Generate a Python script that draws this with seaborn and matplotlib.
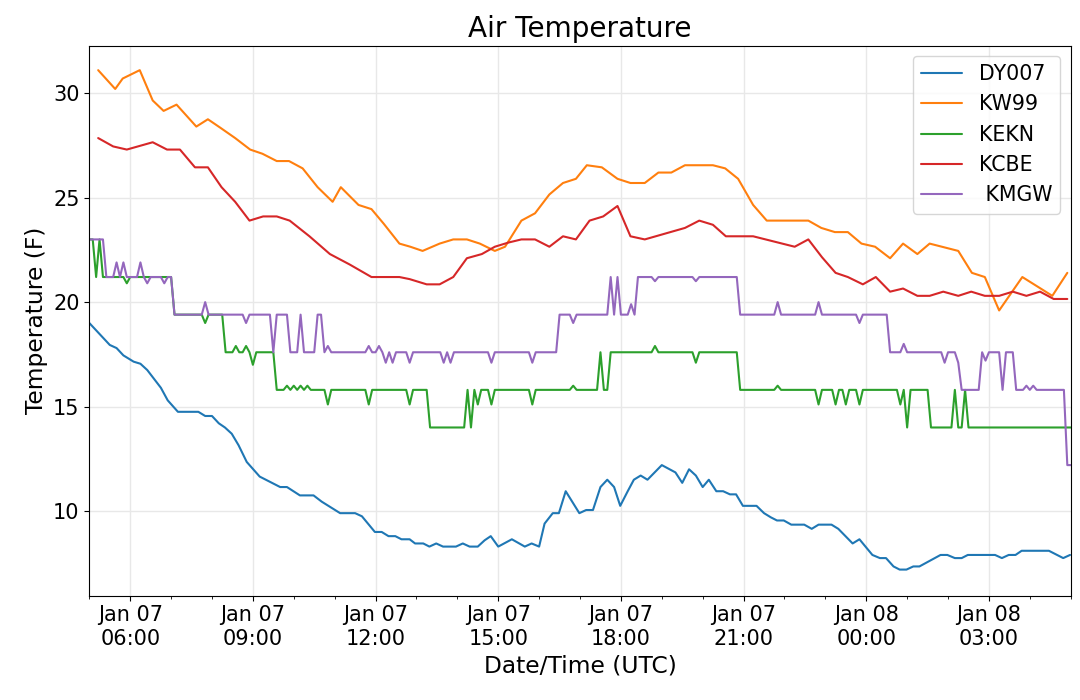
import numpy as np
import pandas as pd
import seaborn as sns
import matplotlib
matplotlib.use("Agg")
import matplotlib.pyplot as plt
import matplotlib.dates as mdates
from matplotlib.ticker import MultipleLocator

START = pd.Timestamp("2019-01-07 05:00")

# DY007: minutes after 05:00 UTC and temperature (F)
dy007_min = [0, 30, 40, 50, 65, 75, 85, 105, 115, 130, 160, 170, 180, 190, 199, 209, 219, 231,
             250, 280, 290, 309, 329, 341, 368, 390, 400, 419, 429, 439, 449, 458, 470, 478,
             490, 499, 509, 519, 538, 548, 558, 570, 580, 589, 600, 620, 639, 649, 660, 668,
             680, 689, 699, 719, 729, 739, 750, 760, 770, 779, 790, 799, 809, 819, 840, 860,
             870, 880, 890, 900, 909, 920, 930, 940, 949, 959, 979, 990, 1000, 1009, 1019, 1030,
             1049, 1060, 1070, 1089, 1099, 1120, 1130, 1149, 1160, 1169, 1180, 1189, 1199, 1209,
             1218, 1249, 1259, 1270, 1280, 1289, 1329, 1339, 1349, 1359, 1368, 1408, 1429, 1439]
dy007_temp = [19.0, 17.95, 17.8, 17.45, 17.15, 17.05, 16.75, 15.9, 15.3, 14.75, 14.75, 14.55,
              14.55, 14.2, 14.0, 13.7, 13.15, 12.35, 11.65, 11.15, 11.15, 10.75, 10.75, 10.45,
              9.9, 9.9, 9.75, 9.0, 9.0, 8.8, 8.8, 8.65, 8.65, 8.45, 8.45, 8.3, 8.45, 8.3, 8.3,
              8.45, 8.3, 8.3, 8.6, 8.8, 8.3, 8.65, 8.3, 8.45, 8.3, 9.4, 9.9, 9.9, 10.95, 9.9,
              10.05, 10.05, 11.15, 11.5, 11.15, 10.25, 10.95, 11.5, 11.7, 11.5, 12.2, 11.85,
              11.35, 12.0, 11.7, 11.15, 11.5, 10.95, 10.95, 10.8, 10.8, 10.25, 10.25, 9.9, 9.7,
              9.55, 9.55, 9.35, 9.35, 9.15, 9.35, 9.35, 9.15, 8.45, 8.65, 7.9, 7.75, 7.75, 7.35,
              7.2, 7.2, 7.35, 7.35, 7.9, 7.9, 7.75, 7.75, 7.9, 7.9, 7.75, 7.9, 7.9, 8.1, 8.1,
              7.75, 7.9]

# KW99
kw99_min = [13, 38, 49, 74, 93, 109, 128, 157, 174, 192, 214, 236, 254, 275, 293, 313, 335,
            357, 369, 395, 414, 432, 455, 471, 489, 514, 534, 554, 573, 595, 610, 634, 654,
            675, 695, 714, 730, 752, 775, 794, 815, 835, 854, 874, 915, 933, 952, 974, 994,
            1055, 1074, 1094, 1113, 1133, 1153, 1175, 1194, 1215, 1233, 1275, 1295, 1314,
            1335, 1369, 1413, 1435]
kw99_temp = [31.1, 30.2, 30.7, 31.1, 29.65, 29.15, 29.45, 28.4, 28.75, 28.35, 27.85, 27.3,
             27.1, 26.75, 26.75, 26.4, 25.5, 24.8, 25.5, 24.65, 24.45, 23.75, 22.8, 22.65,
             22.45, 22.8, 23.0, 23.0, 22.8, 22.45, 22.65, 23.9, 24.25, 25.15, 25.7, 25.9,
             26.55, 26.45, 25.9, 25.7, 25.7, 26.2, 26.2, 26.55, 26.55, 26.4, 25.9, 24.65,
             23.9, 23.9, 23.55, 23.35, 23.35, 22.8, 22.65, 22.1, 22.8, 22.3, 22.8, 22.45,
             21.4, 21.2, 19.6, 21.2, 20.3, 21.4]

# KCBE
kcbe_min = [13, 35, 55, 93, 114, 133, 155, 174, 194, 214, 235, 255, 275, 294, 323, 353, 382,
            414, 455, 470, 495, 514, 534, 554, 576, 595, 615, 634, 654, 675, 695, 714, 734,
            754, 775, 794, 815, 874, 895, 915, 934, 953, 974, 1035, 1055, 1075, 1095, 1113,
            1135, 1154, 1175, 1194, 1215, 1233, 1253, 1275, 1294, 1314, 1335, 1355, 1375,
            1395, 1415, 1435]
kcbe_temp = [27.85, 27.45, 27.3, 27.65, 27.3, 27.3, 26.45, 26.45, 25.5, 24.8, 23.9, 24.1,
             24.1, 23.9, 23.15, 22.3, 21.8, 21.2, 21.2, 21.1, 20.85, 20.85, 21.2, 22.1, 22.3,
             22.65, 22.85, 23.0, 23.0, 22.65, 23.15, 23.0, 23.9, 24.1, 24.6, 23.15, 23.0,
             23.55, 23.9, 23.7, 23.15, 23.15, 23.15, 22.65, 23.0, 22.15, 21.4, 21.2, 20.85,
             21.2, 20.5, 20.65, 20.3, 20.3, 20.5, 20.3, 20.5, 20.3, 20.3, 20.5, 20.3, 20.5,
             20.15, 20.15]

# KEKN and KMGW report every 5 minutes: (temperature, number of consecutive reports)
kekn_runs = [(23.0, 2), (21.2, 1), (23.0, 1), (21.2, 7), (20.9, 1), (21.2, 13), (19.4, 9),
             (19.0, 1), (19.4, 5), (17.6, 3), (17.9, 1), (17.6, 2), (17.9, 1), (17.6, 1),
             (17.0, 1), (17.6, 6), (15.8, 3), (16.0, 1), (15.8, 1), (16.0, 1), (15.8, 1),
             (16.0, 1), (15.8, 1), (16.0, 1), (15.8, 5), (15.1, 1), (15.8, 11), (15.1, 1),
             (15.8, 11), (15.1, 1), (15.8, 5), (14.0, 11), (15.8, 1), (14.0, 1), (15.8, 1),
             (15.1, 1), (15.8, 3), (15.1, 1), (15.8, 11), (15.1, 1), (15.8, 11), (16.0, 1),
             (15.8, 7), (17.6, 1), (15.8, 2), (17.6, 13), (17.9, 1), (17.6, 11), (17.1, 1),
             (17.6, 12), (15.8, 11), (16.0, 1), (15.8, 11), (15.1, 1), (15.8, 4), (15.1, 1),
             (15.8, 2), (15.1, 1), (15.8, 3), (15.1, 1), (15.8, 11), (15.1, 1), (15.8, 1),
             (14.0, 1), (15.8, 6), (14.0, 7), (15.8, 1), (14.0, 2), (15.8, 1), (14.0, 31)]
kmgw_runs = [(23.0, 5), (21.2, 3), (21.9, 1), (21.2, 1), (21.9, 1), (21.2, 4), (21.9, 1),
             (21.2, 1), (20.9, 1), (21.2, 4), (20.9, 1), (21.2, 2), (19.4, 9), (20.0, 1),
             (19.4, 11), (19.0, 1), (19.4, 7), (17.6, 1), (19.4, 4), (17.6, 3), (19.4, 1),
             (17.6, 4), (19.4, 2), (17.6, 1), (17.9, 1), (17.6, 11), (17.9, 1), (17.6, 2),
             (17.9, 1), (17.6, 1), (17.1, 1), (17.6, 1), (17.1, 1), (17.6, 4), (17.1, 1),
             (17.6, 9), (17.1, 1), (17.6, 1), (17.1, 1), (17.6, 11), (17.1, 1), (17.6, 11),
             (17.1, 1), (17.6, 7), (19.4, 4), (19.0, 1), (19.4, 10), (21.2, 1), (19.4, 1),
             (21.2, 1), (19.4, 3), (19.9, 1), (19.4, 1), (21.2, 5), (21.0, 1), (21.2, 11),
             (21.0, 1), (21.2, 12), (19.4, 11), (20.0, 1), (19.4, 11), (20.0, 1), (19.4, 11),
             (19.0, 1), (19.4, 8), (17.6, 4), (18.0, 1), (17.6, 11), (17.1, 1), (17.6, 3),
             (17.1, 1), (15.8, 6), (17.6, 1), (17.2, 1), (17.6, 4), (15.8, 1), (17.6, 3),
             (15.8, 3), (16.0, 1), (15.8, 1), (16.0, 1), (15.8, 9), (12.2, 2)]

stations = ["DY007", "KW99", "KEKN", "KCBE", " KMGW"]
colors = ["#1f77b4", "#ff7f0e", "#2ca02c", "#d62728", "#9467bd"]


def expand_runs(runs):
    vals = [v for v, n in runs]
    counts = [n for v, n in runs]
    return np.repeat(vals, counts)


def frame(name, minutes, temps):
    t = START + pd.to_timedelta(minutes, unit="min")
    return pd.DataFrame({"time": t, "temp": temps, "station": name})


kekn = expand_runs(kekn_runs)
kmgw = expand_runs(kmgw_runs)

df = pd.concat([
    frame("DY007", dy007_min, dy007_temp),
    frame("KW99", kw99_min, kw99_temp),
    frame("KEKN", list(range(0, 5 * len(kekn), 5)), kekn),
    frame("KCBE", kcbe_min, kcbe_temp),
    frame(" KMGW", list(range(0, 5 * len(kmgw), 5)), kmgw),
], ignore_index=True)

sns.set_style("ticks")
plt.rcParams['font.family'] = ['DejaVu Sans']
plt.rcParams['text.color'] = 'black'
plt.rcParams['axes.labelcolor'] = 'black'
plt.rcParams['axes.edgecolor'] = 'black'
plt.rcParams['xtick.color'] = 'black'
plt.rcParams['ytick.color'] = 'black'

fig = plt.figure(figsize=(10.8, 7), dpi=100)
ax = fig.add_axes([0.0827, 0.149, 0.9087, 0.7857])

sns.lineplot(data=df, x="time", y="temp", hue="station", hue_order=stations,
             palette=colors, estimator=None, sort=False, linewidth=1.5, ax=ax)

ax.set_xlim(START, START + pd.Timedelta(hours=24))
ax.set_ylim(5.95, 32.27)
ax.yaxis.set_major_locator(MultipleLocator(5))
ax.xaxis.set_major_locator(mdates.HourLocator(byhour=range(0, 24, 3)))
ax.xaxis.set_minor_locator(mdates.HourLocator())
ax.xaxis.set_major_formatter(mdates.DateFormatter("%b %d\n%H:%M"))
ax.tick_params(axis="both", which="major", labelsize=15, length=3.5, width=0.8)
ax.tick_params(axis="x", which="minor", length=2, width=0.6)
for lab in ax.get_xticklabels():
    lab.set_ha("center")

ax.grid(True, which="major", color="#e8e8e8", linewidth=1.0)
ax.set_axisbelow(True)

ax.set_title("Air Temperature", fontsize=20.1)
ax.set_xlabel("Date/Time (UTC)", fontsize=16.8)
ax.set_ylabel("Temperature (F)", fontsize=16.8)

sns.move_legend(ax, "upper right", title=None, fontsize=14.8, frameon=True)

fig.savefig("out.png", dpi=100)
